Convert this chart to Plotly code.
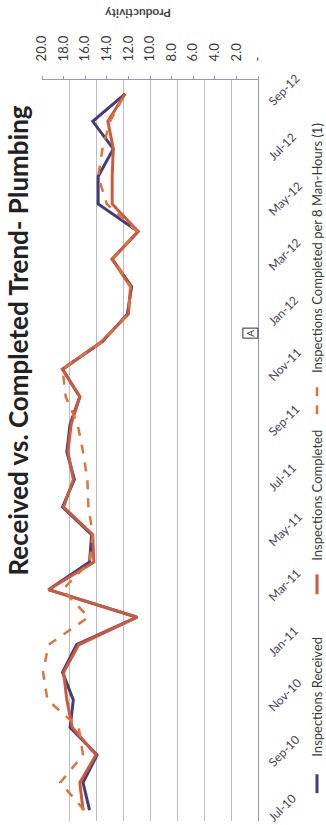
import plotly.graph_objects as go

# ---------------- data ----------------
months = ["Jul-10", "Aug-10", "Sep-10", "Oct-10", "Nov-10", "Dec-10",
          "Jan-11", "Feb-11", "Mar-11", "Apr-11", "May-11", "Jun-11",
          "Jul-11", "Aug-11", "Sep-11", "Oct-11", "Nov-11", "Dec-11",
          "Jan-12", "Feb-12", "Mar-12", "Apr-12", "May-12", "Jun-12",
          "Jul-12", "Aug-12", "Sep-12"]

received = [15.6, 16.2, 14.9, 17.4, 17.1, 18.1, 16.8, 11.2, 19.4, 15.6,
            15.4, 18.1, 17.0, 17.7, 17.4, 16.5, 18.1, 14.4, 12.1, 11.7,
            13.5, 11.1, 14.8, 14.8, 13.4, 15.3, 12.3]

completed = [16.2, 16.5, 15.0, 17.2, 17.7, 18.0, 16.6, 11.2, 19.4, 15.2,
             15.3, 18.0, 17.1, 17.6, 17.3, 16.5, 18.1, 14.5, 12.0, 11.8,
             13.5, 11.1, 13.5, 13.5, 13.4, 13.9, 12.3]

productivity = [16.1, 18.3, 16.2, 16.6, 19.5, 19.9, 19.4, 15.7, 18.1, 15.6,
                15.3, 15.7, 15.8, 16.2, 16.7, 17.8, 18.1, 14.4, 12.0, 11.8,
                13.4, 11.2, 14.0, 14.8, 14.4, 13.7, 12.3]

value_ticks = [20, 18, 16, 14, 12, 10, 8, 6, 4, 2, 0]
value_ticktext = ["20.0", "18.0", "16.0", "14.0", "12.0", "10.0",
                  "8.0", "6.0", "4.0", "2.0", "-"]
grid_vals = [0, 2.5, 5, 7.5, 10, 12.5, 15, 17.5, 20]

series_names = ["Inspections Received", "Inspections Completed",
                "Inspections Completed per 8 Man-Hours (1)"]
title_text = "Received vs. Completed Trend- Plumbing"

# ---------------- styling ----------------
W, H = 326, 825
ML, MR, MT, MB = 42, 68, 80, 0
PW, PH = W - ML - MR, H - MT - MB

C_REC = "#463c7c"
C_COMP = "#cc5a3c"
C_PROD = "#dc7440"
GRID = "#bcbcc4"
AXIS = "#9298b8"
TXT = "#3a3a3a"
FONT = "Lato"


def px_x(p):
    return (p - ML) / PW


def px_y(p):
    return (H - p) / PH


fig = go.Figure()
fig.add_trace(go.Scatter(x=received, y=months, mode="lines", name=series_names[0],
                         line=dict(color=C_REC, width=3), xaxis="x", yaxis="y"))
fig.add_trace(go.Scatter(x=completed, y=months, mode="lines", name=series_names[1],
                         line=dict(color=C_COMP, width=3), xaxis="x", yaxis="y"))
fig.add_trace(go.Scatter(x=productivity, y=months, mode="lines", name=series_names[2],
                         line=dict(color=C_PROD, width=2.5, dash="dash"),
                         xaxis="x2", yaxis="y"))

fig.update_layout(
    width=W, height=H,
    margin=dict(l=ML, r=MR, t=MT, b=MB, pad=0),
    paper_bgcolor="white", plot_bgcolor="white",
    showlegend=False,
    font=dict(family=FONT, color=TXT, size=12),
    xaxis=dict(range=[20, 0], tickmode="array", tickvals=grid_vals,
               showticklabels=False, ticks="", showgrid=True,
               gridcolor=GRID, gridwidth=1, zeroline=False, showline=False),
    xaxis2=dict(range=[20, 0], overlaying="x", side="top", anchor="y",
                tickmode="array", tickvals=value_ticks, ticktext=value_ticktext,
                tickangle=-90, ticks="outside", ticklen=3, tickcolor=AXIS,
                showgrid=False, zeroline=False, showline=True, linecolor=AXIS,
                tickfont=dict(family=FONT, size=13, color=TXT),
                ticklabelstandoff=12),
    yaxis=dict(type="category", categoryorder="array", categoryarray=months,
               range=[-0.397, 26.5], side="right", tickmode="array",
               tickvals=months[::2], tickangle=-45, ticks="",
               showgrid=False, zeroline=False, showline=True, linecolor=AXIS,
               tickfont=dict(family=FONT, size=12, color="#4a4458"),
               ticklabelstandoff=8, ticklabelshift=10),
)

annotations = []
# chart title, rotated
annotations.append(dict(text="<b>" + title_text + "</b>", textangle=-90,
                        xref="paper", yref="paper", x=px_x(18), y=px_y(342),
                        xanchor="center", yanchor="middle", showarrow=False,
                        font=dict(family=FONT, size=26, color="#222222")))
# secondary axis title (upside down)
annotations.append(dict(text="<b>Productivity</b>", textangle=180,
                        xref="paper", yref="paper", x=px_x(138), y=px_y(13),
                        xanchor="center", yanchor="middle", showarrow=False,
                        font=dict(family=FONT, size=12, color="#444444")))
# boxed A marker
annotations.append(dict(text="A", textangle=-90, xref="paper", yref="paper",
                        x=px_x(250), y=px_y(335), xanchor="center", yanchor="middle",
                        showarrow=False, bordercolor="#333333", borderwidth=1,
                        borderpad=1, bgcolor="white",
                        font=dict(family=FONT, size=10, color="#333333")))
# legend texts
legend_text_centers = [700, 498, 249]
for name, yc in zip(series_names, legend_text_centers):
    annotations.append(dict(text=name, textangle=-90, xref="paper", yref="paper",
                            x=px_x(317), y=px_y(yc), xanchor="center", yanchor="middle",
                            showarrow=False,
                            font=dict(family=FONT, size=13, color=TXT)))
fig.update_layout(annotations=annotations)

# legend swatches
swatches = [(C_REC, 778, 797, "solid", 3), (C_COMP, 577, 597, "solid", 3),
            (C_PROD, 389, 420, "dash", 2.5)]
shapes = []
for col, y0, y1, dash, w in swatches:
    shapes.append(dict(type="line", xref="paper", yref="paper",
                       x0=px_x(317), x1=px_x(317), y0=px_y(y0), y1=px_y(y1),
                       line=dict(color=col, width=w, dash=dash)))
fig.update_layout(shapes=shapes)

fig.write_html("out.html")
